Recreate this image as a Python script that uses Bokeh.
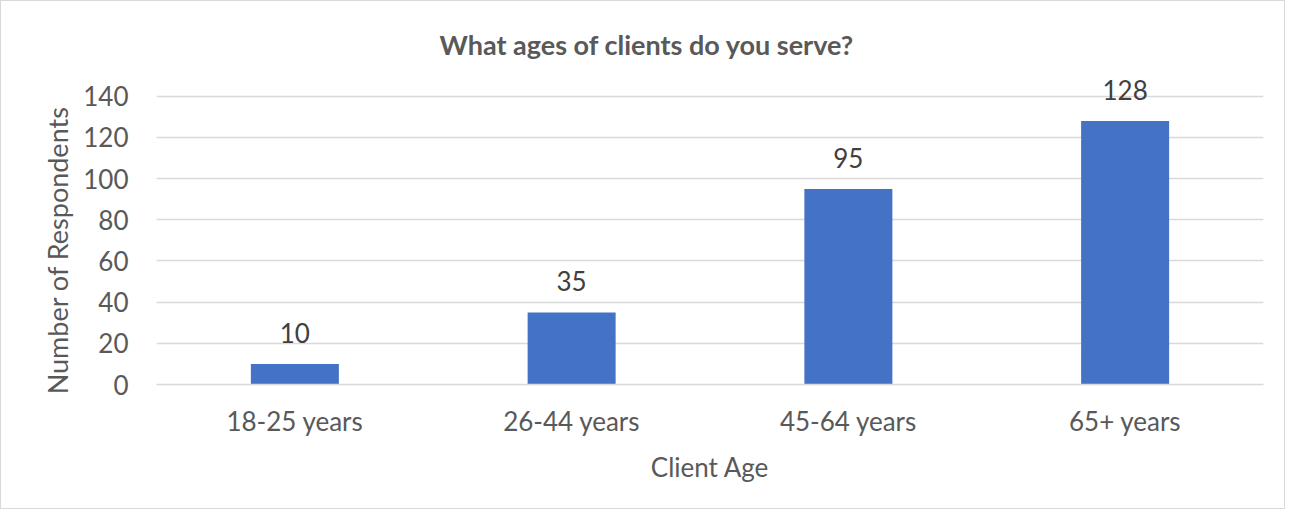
from bokeh.plotting import figure
from bokeh.models import ColumnDataSource, FactorRange, Range1d, LabelSet, FixedTicker
from bokeh.core.properties import value
from bokeh.embed import file_html
from bokeh.resources import INLINE

categories = ["18-25 years", "26-44 years", "45-64 years", "65+ years"]
values = [10, 35, 95, 128]
labels = [str(v) for v in values]
y_ticks = [0, 20, 40, 60, 80, 100, 120, 140]

FONT = "Lato"
TXT = "#595959"

src = ColumnDataSource(dict(cat=categories, val=values, lab=labels))

p = figure(width=1285, height=509, x_range=FactorRange(*categories, range_padding=0),
           y_range=Range1d(0, 154), output_backend="svg", toolbar_location=None,
           min_border_left=155, min_border_right=23, min_border_top=66, min_border_bottom=126)
p.styles = {"border": "1px solid #d9d9d9"}
p.outline_line_color = None

p.vbar(x="cat", top="val", width=0.318, source=src, color="#4472C4", line_color=None)

p.add_layout(LabelSet(x="cat", y="val", text="lab", source=src, y_offset=21,
                      text_align="center", text_baseline="bottom",
                      text_font=value(FONT), text_font_size=value("26px"),
                      text_color="#404040"))

p.title.text = "What ages of clients do you serve?"
p.title.align = "left"
p.title.text_font = FONT
p.title.text_font_size = "27px"
p.title.text_font_style = "bold"
p.title.text_color = TXT
p.title.offset = 283
p.title.standoff = 14

p.yaxis.ticker = FixedTicker(ticks=y_ticks)
p.ygrid.grid_line_color = "#d9d9d9"
p.ygrid.grid_line_width = 1.5
p.xgrid.grid_line_color = None

for ax in (p.xaxis, p.yaxis):
    ax.major_tick_line_color = None
    ax.minor_tick_line_color = None
    ax.major_label_text_font = FONT
    ax.major_label_text_font_size = "26px"
    ax.major_label_text_color = TXT
    ax.axis_label_text_font = FONT
    ax.axis_label_text_font_size = "26px"
    ax.axis_label_text_color = TXT
    ax.axis_label_text_font_style = "normal"

p.yaxis.axis_label_text_font_size = "27px"
p.yaxis.axis_line_color = None
p.xaxis.axis_line_color = "#d9d9d9"
p.xaxis.axis_line_width = 1.5
p.xaxis.axis_label = "Client Age"
# trailing non-breaking spaces shift the centred label down, as in the reference
p.yaxis.axis_label = "Number of Respondents" + "\u00a0" * 7
p.xaxis.major_label_standoff = 14
p.xaxis.axis_label_standoff = 11
p.yaxis.major_label_standoff = 22
p.yaxis.axis_label_standoff = 6

open("out.html", "w").write(file_html(p, INLINE))
